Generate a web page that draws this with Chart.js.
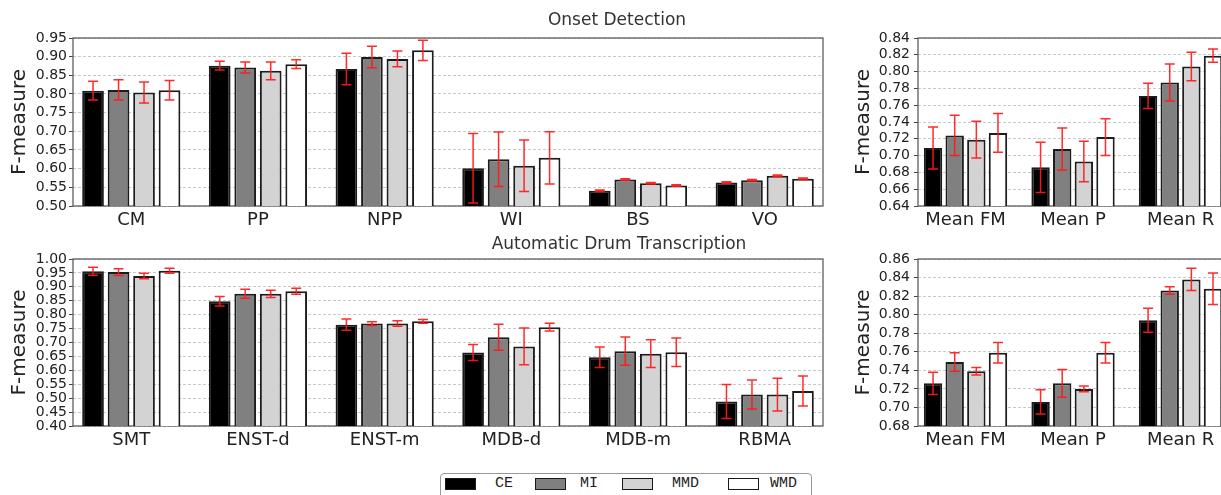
<!DOCTYPE html>
<html><head><meta charset="utf-8">
<script src="https://cdn.jsdelivr.net/npm/chart.js@4.4.1/dist/chart.umd.min.js"></script>
<style>
html,body{margin:0;padding:0;background:#fff;width:1221px;height:495px;overflow:hidden;position:relative;}
canvas{position:absolute;}
.title{position:absolute;font-family:'DejaVu Sans';font-size:17px;color:#333;transform:translate(-50%,-50%);white-space:nowrap;z-index:5;line-height:20px;}
#legend{position:absolute;left:440px;top:473px;width:372px;height:40px;border:1px solid #999;border-radius:4px;background:#fff;z-index:6;box-sizing:border-box;}
.sw{position:absolute;top:4px;width:31px;height:12px;border:1.5px solid #1a1a1a;box-sizing:border-box;}
.lt{position:absolute;top:2px;font-family:'Liberation Mono',monospace;font-size:15px;line-height:15px;color:#222;}
</style></head>
<body>
<canvas id="c1" width="840" height="232" style="left:0;top:0"></canvas>
<canvas id="c2" width="400" height="232" style="left:840px;top:0"></canvas>
<canvas id="c3" width="840" height="232" style="left:0;top:232px"></canvas>
<canvas id="c4" width="400" height="232" style="left:840px;top:232px"></canvas>
<div class="title" style="left:617px;top:19px">Onset Detection</div>
<div class="title" style="left:619px;top:243px">Automatic Drum Transcription</div>
<div id="legend"></div>
<script>
// ---------------- DATA ----------------
const seriesNames = ['CE', 'MI', 'MMD', 'WMD'];
const seriesColors = ['#000000', '#808080', '#d3d3d3', '#ffffff'];

const onsetCategories = ['CM', 'PP', 'NPP', 'WI', 'BS', 'VO'];
const onsetCE  = [0.809, 0.876, 0.867, 0.601, 0.541, 0.563];
const onsetMI  = [0.811, 0.871, 0.899, 0.625, 0.571, 0.569];
const onsetMMD = [0.804, 0.862, 0.894, 0.608, 0.561, 0.581];
const onsetWMD = [0.810, 0.880, 0.917, 0.629, 0.555, 0.573];
const onsetCEErr  = [0.025, 0.012, 0.042, 0.093, 0.002, 0.002];
const onsetMIErr  = [0.027, 0.015, 0.029, 0.073, 0.002, 0.002];
const onsetMMDErr = [0.028, 0.024, 0.021, 0.069, 0.002, 0.002];
const onsetWMDErr = [0.026, 0.012, 0.027, 0.070, 0.002, 0.002];

const onsetMeanCategories = ['Mean FM', 'Mean P', 'Mean R'];
const onsetMeanCE  = [0.709, 0.686, 0.771];
const onsetMeanMI  = [0.724, 0.708, 0.787];
const onsetMeanMMD = [0.719, 0.693, 0.806];
const onsetMeanWMD = [0.727, 0.722, 0.819];
const onsetMeanCEErr  = [0.025, 0.030, 0.015];
const onsetMeanMIErr  = [0.024, 0.025, 0.022];
const onsetMeanMMDErr = [0.022, 0.024, 0.017];
const onsetMeanWMDErr = [0.023, 0.022, 0.008];

const adtCategories = ['SMT', 'ENST-d', 'ENST-m', 'MDB-d', 'MDB-m', 'RBMA'];
const adtCE  = [0.956, 0.848, 0.764, 0.664, 0.647, 0.488];
const adtMI  = [0.953, 0.875, 0.768, 0.719, 0.669, 0.513];
const adtMMD = [0.939, 0.875, 0.768, 0.686, 0.660, 0.513];
const adtWMD = [0.958, 0.884, 0.776, 0.755, 0.665, 0.526];
const adtCEErr  = [0.014, 0.017, 0.020, 0.029, 0.037, 0.061];
const adtMIErr  = [0.012, 0.016, 0.007, 0.047, 0.051, 0.052];
const adtMMDErr = [0.010, 0.013, 0.010, 0.066, 0.050, 0.059];
const adtWMDErr = [0.009, 0.011, 0.007, 0.014, 0.051, 0.054];

const adtMeanCategories = ['Mean FM', 'Mean P', 'Mean R'];
const adtMeanCE  = [0.726, 0.706, 0.794];
const adtMeanMI  = [0.749, 0.726, 0.826];
const adtMeanMMD = [0.739, 0.720, 0.838];
const adtMeanWMD = [0.759, 0.759, 0.828];
const adtMeanCEErr  = [0.012, 0.013, 0.013];
const adtMeanMIErr  = [0.010, 0.015, 0.004];
const adtMeanMMDErr = [0.004, 0.003, 0.012];
const adtMeanWMDErr = [0.011, 0.011, 0.017];

// ---------------- PLUGINS ----------------
const errorBarPlugin = {
  id: 'errbars',
  afterDatasetsDraw(chart) {
    const ctx = chart.ctx, ys = chart.scales.y;
    ctx.save();
    ctx.strokeStyle = 'rgba(255,25,25,0.92)';
    ctx.lineWidth = 1.5;
    chart.data.datasets.forEach((ds, di) => {
      const meta = chart.getDatasetMeta(di);
      meta.data.forEach((bar, i) => {
        const v = ds.data[i].y, e = ds.errors[i];
        const x = bar.x;
        const y1 = ys.getPixelForValue(v + e), y2 = ys.getPixelForValue(v - e);
        ctx.beginPath();
        ctx.moveTo(x, y1); ctx.lineTo(x, y2);
        ctx.moveTo(x - 5, y1); ctx.lineTo(x + 5, y1);
        ctx.moveTo(x - 5, y2); ctx.lineTo(x + 5, y2);
        ctx.stroke();
      });
    });
    ctx.restore();
  }
};
const framePlugin = {
  id: 'frame',
  beforeDatasetsDraw(chart) {
    const {left, top, right, bottom} = chart.chartArea;
    const ctx = chart.ctx;
    ctx.save();
    ctx.strokeStyle = '#5e5e5e';
    ctx.lineWidth = 1.3;
    ctx.strokeRect(left, top, right - left, bottom - top);
    ctx.restore();
  }
};

Chart.defaults.font.family = "'DejaVu Sans', sans-serif";
Chart.defaults.color = '#222';

function makeChart(id, cats, vals, errs, yMin, yMax, yStep, xMin, xMax, g) {
  const datasets = vals.map((arr, si) => ({
    label: seriesNames[si],
    data: arr.map((v, i) => ({x: i, y: v})),
    errors: errs[si],
    backgroundColor: seriesColors[si],
    borderColor: '#1c1c1c',
    borderWidth: 2,
    borderSkipped: 'start',
    categoryPercentage: 0.805,
    barPercentage: 0.85
  }));
  return new Chart(document.getElementById(id), {
    type: 'bar',
    data: {datasets},
    options: {
      responsive: false,
      animation: false,
      devicePixelRatio: 1,
      layout: {padding: {top: g.padTop, right: g.padRight, left: 0, bottom: 0}},
      plugins: {legend: {display: false}, tooltip: {enabled: false}},
      scales: {
        x: {
          type: 'linear',
          min: xMin, max: xMax,
          offset: false,
          grid: {display: false, drawTicks: false, offset: false},
          border: {display: false},
          ticks: {
            stepSize: 1, includeBounds: false, autoSkip: false, maxRotation: 0,
            padding: g.xPad,
            font: {size: 18}, color: '#222',
            callback: (v) => Number.isInteger(v) && cats[v] !== undefined ? cats[v] : ''
          },
          afterFit: (s) => { s.height = g.xHeight; }
        },
        y: {
          min: yMin, max: yMax,
          grid: {color: '#c8c8c8', lineWidth: 1, drawTicks: true, tickLength: 4, tickColor: '#444', tickWidth: 1},
          border: {display: false, dash: [3, 2]},
          ticks: {
            stepSize: yStep, autoSkip: false, padding: g.yPad,
            font: {size: 14}, color: '#222',
            callback: (v) => Number(v).toFixed(2)
          },
          title: {display: true, text: 'F-measure', font: {size: 20}, color: '#222', padding: {top: g.titlePad, bottom: 0}},
          afterFit: (s) => { s.width = g.yWidth; }
        }
      }
    },
    plugins: [framePlugin, errorBarPlugin]
  });
}

makeChart('c1', onsetCategories,
  [onsetCE, onsetMI, onsetMMD, onsetWMD],
  [onsetCEErr, onsetMIErr, onsetMMDErr, onsetWMDErr],
  0.50, 0.95, 0.05, -0.46, 5.46,
  {padTop: 38, padRight: 17, xHeight: 26, yWidth: 73, xPad: 4, yPad: 2, titlePad: 8});

makeChart('c2', onsetMeanCategories,
  [onsetMeanCE, onsetMeanMI, onsetMeanMMD, onsetMeanWMD],
  [onsetMeanCEErr, onsetMeanMIErr, onsetMeanMMDErr, onsetMeanWMDErr],
  0.64, 0.84, 0.02, -0.442, 2.553,
  {padTop: 38, padRight: 0, xHeight: 26, yWidth: 78, xPad: 4, yPad: 4, titlePad: 12});

makeChart('c3', adtCategories,
  [adtCE, adtMI, adtMMD, adtWMD],
  [adtCEErr, adtMIErr, adtMMDErr, adtWMDErr],
  0.40, 1.00, 0.05, -0.46, 5.46,
  {padTop: 27, padRight: 17, xHeight: 38, yWidth: 73, xPad: 4, yPad: 2, titlePad: 8});

makeChart('c4', adtMeanCategories,
  [adtMeanCE, adtMeanMI, adtMeanMMD, adtMeanWMD],
  [adtMeanCEErr, adtMeanMIErr, adtMeanMMDErr, adtMeanWMDErr],
  0.68, 0.86, 0.02, -0.442, 2.553,
  {padTop: 27, padRight: 0, xHeight: 38, yWidth: 78, xPad: 4, yPad: 4, titlePad: 12});

// ---------------- LEGEND (HTML) ----------------
const legend = document.getElementById('legend');
const swLeft = [4, 94, 181, 287];
const txtLeft = [54, 139, 231, 329];
seriesNames.forEach((n, i) => {
  const s = document.createElement('div');
  s.className = 'sw';
  s.style.left = swLeft[i] + 'px';
  s.style.background = seriesColors[i];
  legend.appendChild(s);
  const t = document.createElement('div');
  t.className = 'lt';
  t.style.left = txtLeft[i] + 'px';
  t.textContent = n;
  legend.appendChild(t);
});
</script>
</body></html>
